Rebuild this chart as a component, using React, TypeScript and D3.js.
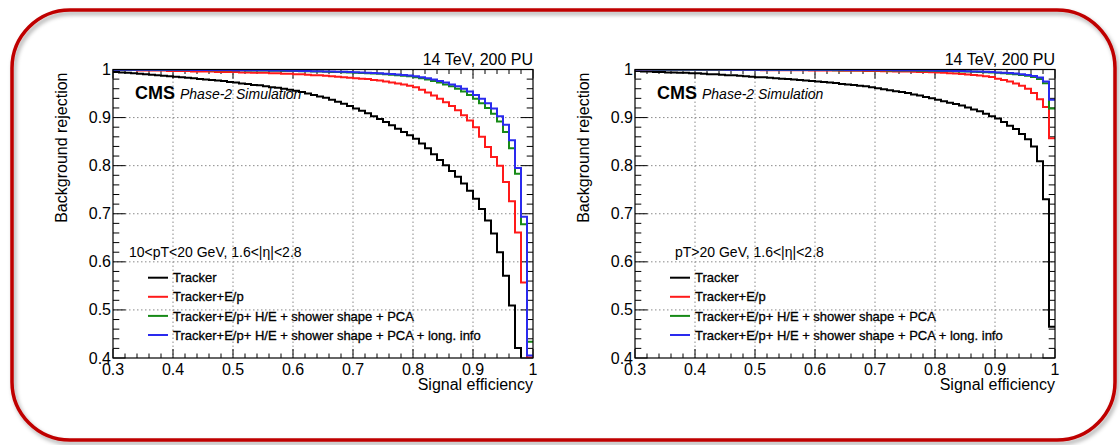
import React from 'react';
import * as d3 from 'd3';

// low edges of the signal-efficiency bins (bin width 0.01)
const efficiencyBins = [
  0.30, 0.31, 0.32, 0.33, 0.34, 0.35, 0.36, 0.37, 0.38, 0.39,
  0.40, 0.41, 0.42, 0.43, 0.44, 0.45, 0.46, 0.47, 0.48, 0.49,
  0.50, 0.51, 0.52, 0.53, 0.54, 0.55, 0.56, 0.57, 0.58, 0.59,
  0.60, 0.61, 0.62, 0.63, 0.64, 0.65, 0.66, 0.67, 0.68, 0.69,
  0.70, 0.71, 0.72, 0.73, 0.74, 0.75, 0.76, 0.77, 0.78, 0.79,
  0.80, 0.81, 0.82, 0.83, 0.84, 0.85, 0.86, 0.87, 0.88, 0.89,
  0.90, 0.91, 0.92, 0.93, 0.94, 0.95, 0.96, 0.97, 0.98, 0.99,
];

// 10 < pT < 20 GeV
const lowTracker = [
  0.995, 0.994, 0.993, 0.992, 0.991, 0.990, 0.989, 0.988, 0.987, 0.986,
  0.985, 0.984, 0.983, 0.982, 0.980, 0.979, 0.978, 0.977, 0.976, 0.974,
  0.973, 0.971, 0.970, 0.968, 0.967, 0.965, 0.963, 0.962, 0.960, 0.958,
  0.956, 0.953, 0.950, 0.947, 0.944, 0.941, 0.937, 0.933, 0.929, 0.924,
  0.919, 0.914, 0.909, 0.903, 0.897, 0.891, 0.884, 0.877, 0.870, 0.863,
  0.856, 0.846, 0.836, 0.824, 0.812, 0.801, 0.789, 0.777, 0.763, 0.748,
  0.731, 0.710, 0.686, 0.659, 0.620, 0.571, 0.509, 0.421, 0.320, 0.200,
];
const lowTrackerEp = [
  0.999, 0.999, 0.999, 0.999, 0.998, 0.998, 0.998, 0.998, 0.998, 0.997,
  0.997, 0.997, 0.997, 0.996, 0.996, 0.996, 0.996, 0.995, 0.995, 0.995,
  0.995, 0.994, 0.994, 0.993, 0.993, 0.993, 0.992, 0.992, 0.991, 0.991,
  0.990, 0.990, 0.989, 0.988, 0.988, 0.987, 0.986, 0.985, 0.984, 0.983,
  0.982, 0.981, 0.980, 0.978, 0.977, 0.975, 0.973, 0.971, 0.969, 0.966,
  0.963, 0.958, 0.952, 0.946, 0.939, 0.932, 0.924, 0.915, 0.905, 0.894,
  0.880, 0.860, 0.839, 0.818, 0.800, 0.766, 0.726, 0.661, 0.557, 0.401,
];
const lowPca = [
  0.9995, 0.9995, 0.9995, 0.9994, 0.9994, 0.9993, 0.9993, 0.9992, 0.9992, 0.9991,
  0.9991, 0.9990, 0.9990, 0.9989, 0.9988, 0.9988, 0.9987, 0.9986, 0.9985, 0.9984,
  0.9983, 0.9982, 0.9981, 0.9980, 0.9978, 0.9977, 0.9975, 0.9973, 0.9971, 0.9969,
  0.9967, 0.9965, 0.9962, 0.9960, 0.9957, 0.9954, 0.9950, 0.9947, 0.9943, 0.9939,
  0.9934, 0.9929, 0.9923, 0.9917, 0.9910, 0.9902, 0.9893, 0.9883, 0.9872, 0.9859,
  0.984, 0.982, 0.979, 0.976, 0.973, 0.969, 0.965, 0.960, 0.954, 0.947,
  0.939, 0.930, 0.920, 0.908, 0.892, 0.870, 0.836, 0.783, 0.678, 0.434,
];
const lowLong = [
  0.9997, 0.9997, 0.9997, 0.9996, 0.9996, 0.9996, 0.9995, 0.9995, 0.9995, 0.9994,
  0.9994, 0.9993, 0.9993, 0.9992, 0.9992, 0.9991, 0.9990, 0.9990, 0.9989, 0.9988,
  0.9987, 0.9986, 0.9985, 0.9984, 0.9983, 0.9982, 0.9980, 0.9979, 0.9977, 0.9975,
  0.9973, 0.9971, 0.9969, 0.9966, 0.9964, 0.9961, 0.9958, 0.9955, 0.9951, 0.9947,
  0.9943, 0.9938, 0.9933, 0.9927, 0.9921, 0.9914, 0.9906, 0.9897, 0.9887, 0.9876,
  0.986, 0.984, 0.982, 0.979, 0.976, 0.973, 0.969, 0.965, 0.960, 0.954,
  0.947, 0.939, 0.930, 0.919, 0.903, 0.885, 0.853, 0.795, 0.694, 0.405,
];

// pT > 20 GeV
const highTracker = [
  0.997, 0.996, 0.996, 0.995, 0.995, 0.994, 0.994, 0.993, 0.993, 0.992,
  0.992, 0.991, 0.990, 0.990, 0.989, 0.988, 0.988, 0.987, 0.986, 0.985,
  0.984, 0.984, 0.983, 0.982, 0.981, 0.980, 0.979, 0.978, 0.977, 0.976,
  0.975, 0.974, 0.973, 0.972, 0.970, 0.969, 0.968, 0.966, 0.965, 0.963,
  0.961, 0.959, 0.957, 0.955, 0.953, 0.951, 0.948, 0.946, 0.943, 0.940,
  0.937, 0.934, 0.931, 0.928, 0.925, 0.921, 0.917, 0.913, 0.908, 0.903,
  0.898, 0.891, 0.883, 0.876, 0.866, 0.855, 0.840, 0.809, 0.730, 0.465,
];
const highTrackerEp = [
  0.9996, 0.9996, 0.9995, 0.9995, 0.9995, 0.9994, 0.9994, 0.9994, 0.9993, 0.9993,
  0.9993, 0.9992, 0.9992, 0.9991, 0.9991, 0.9990, 0.9990, 0.9989, 0.9989, 0.9988,
  0.9988, 0.9987, 0.9986, 0.9986, 0.9985, 0.9984, 0.9983, 0.9983, 0.9982, 0.9981,
  0.9980, 0.9979, 0.9978, 0.9977, 0.9976, 0.9975, 0.9973, 0.9972, 0.9971, 0.9969,
  0.9967, 0.9965, 0.9963, 0.9961, 0.9959, 0.9956, 0.9953, 0.9950, 0.9946, 0.9942,
  0.9937, 0.9931, 0.9924, 0.9916, 0.9907, 0.9897, 0.9886, 0.9873, 0.9859, 0.9843,
  0.981, 0.978, 0.975, 0.971, 0.966, 0.960, 0.951, 0.938, 0.922, 0.857,
];
const highPca = [
  0.9998, 0.9998, 0.9998, 0.9997, 0.9997, 0.9997, 0.9997, 0.9996, 0.9996, 0.9996,
  0.9996, 0.9996, 0.9995, 0.9995, 0.9995, 0.9995, 0.9994, 0.9994, 0.9994, 0.9993,
  0.9993, 0.9993, 0.9992, 0.9992, 0.9992, 0.9991, 0.9991, 0.9990, 0.9990, 0.9989,
  0.9989, 0.9988, 0.9988, 0.9987, 0.9987, 0.9986, 0.9986, 0.9985, 0.9985, 0.9984,
  0.9983, 0.9982, 0.9981, 0.9980, 0.9979, 0.9978, 0.9977, 0.9976, 0.9975, 0.9973,
  0.9971, 0.9969, 0.9967, 0.9964, 0.9961, 0.9958, 0.9954, 0.9950, 0.9945, 0.9939,
  0.9932, 0.9924, 0.9914, 0.9902, 0.9888, 0.9870, 0.9845, 0.9805, 0.9715, 0.9190,
];
const highLong = [
  0.9999, 0.9999, 0.9999, 0.9999, 0.9999, 0.9998, 0.9998, 0.9998, 0.9998, 0.9998,
  0.9998, 0.9998, 0.9998, 0.9998, 0.9998, 0.9997, 0.9997, 0.9997, 0.9997, 0.9997,
  0.9997, 0.9997, 0.9997, 0.9996, 0.9996, 0.9996, 0.9996, 0.9995, 0.9995, 0.9995,
  0.9995, 0.9994, 0.9994, 0.9993, 0.9993, 0.9992, 0.9992, 0.9991, 0.9991, 0.9990,
  0.9989, 0.9988, 0.9988, 0.9987, 0.9986, 0.9985, 0.9984, 0.9983, 0.9982, 0.9980,
  0.9978, 0.9976, 0.9974, 0.9971, 0.9968, 0.9965, 0.9961, 0.9957, 0.9952, 0.9946,
  0.9940, 0.9933, 0.9925, 0.9915, 0.9903, 0.9888, 0.9866, 0.9832, 0.9750, 0.9370,
];

const seriesNames = [
  'Tracker',
  'Tracker+E/p',
  'Tracker+E/p+ H/E + shower shape + PCA',
  'Tracker+E/p+ H/E + shower shape + PCA + long. info',
];
const seriesColors = ['#000000', '#ff1a1a', '#178a17', '#2a2aee'];

const xMajorTicks = [0.3, 0.4, 0.5, 0.6, 0.7, 0.8, 0.9, 1.0];
const xTickLabels = ['0.3', '0.4', '0.5', '0.6', '0.7', '0.8', '0.9', '1'];
const yMajorTicks = [0.4, 0.5, 0.6, 0.7, 0.8, 0.9, 1.0];
const yTickLabels = ['0.4', '0.5', '0.6', '0.7', '0.8', '0.9', '1'];

const FONT = '"Liberation Sans", Arial, Helvetica, sans-serif';

const Panel = ({ left, id, header, series }) => {
  const top = 69.5;
  const bottom = 358;
  const right = left + 420;

  const x = d3.scaleLinear().domain([0.3, 1]).range([left, right]);
  const y = d3.scaleLinear().domain([0.4, 1]).range([bottom, top]);

  const line = d3.line()
    .x((d) => x(d[0]))
    .y((d) => y(d[1]))
    .curve(d3.curveStepAfter);

  // minor ticks every 0.02
  const xMinor = d3.range(15, 51).map((i) => i / 50);
  const yMinor = d3.range(20, 51).map((i) => i / 50);

  return (
    <g>
      <defs>
        <clipPath id={`clip-${id}`}>
          <rect x={left} y={top} width={right - left} height={bottom - top} />
        </clipPath>
      </defs>

      {/* dotted grid at major ticks */}
      {xMajorTicks.slice(1, -1).map((t) => (
        <line key={`gx${t}`} x1={x(t)} x2={x(t)} y1={top} y2={bottom}
          stroke="#8a8a8a" strokeWidth={1} strokeDasharray="1.5 2.5" />
      ))}
      {yMajorTicks.slice(1, -1).map((t) => (
        <line key={`gy${t}`} x1={left} x2={right} y1={y(t)} y2={y(t)}
          stroke="#8a8a8a" strokeWidth={1} strokeDasharray="1.5 2.5" />
      ))}

      {/* ticks on all four sides */}
      {xMinor.map((t, i) => {
        const len = i % 5 === 0 ? 9 : 4.5;
        return (
          <g key={`tx${i}`} stroke="#000" strokeWidth={1}>
            <line x1={x(t)} x2={x(t)} y1={bottom} y2={bottom - len} />
            <line x1={x(t)} x2={x(t)} y1={top} y2={top + len} />
          </g>
        );
      })}
      {yMinor.map((t, i) => {
        const len = i % 5 === 0 ? 12.5 : 6.3;
        return (
          <g key={`ty${i}`} stroke="#000" strokeWidth={1}>
            <line x1={left} x2={left + len} y1={y(t)} y2={y(t)} />
            <line x1={right} x2={right - len} y1={y(t)} y2={y(t)} />
          </g>
        );
      })}

      {/* histograms */}
      <g clipPath={`url(#clip-${id})`}>
        {series.map((vals, k) => {
          const pts = efficiencyBins.map((e, i) => [e, vals[i]]);
          pts.push([1.0, vals[vals.length - 1]]);
          return (
            <path key={k} d={line(pts)} fill="none" stroke={seriesColors[k]}
              strokeWidth={2} strokeLinejoin="miter" />
          );
        })}
      </g>

      <rect x={left} y={top} width={right - left} height={bottom - top}
        fill="none" stroke="#000" strokeWidth={1.2} />

      {/* tick labels */}
      <g fontFamily={FONT} fontSize={16} fill="#000">
        {xMajorTicks.map((t, i) => (
          <text key={`lx${t}`} x={x(t)} y={bottom + 17} textAnchor="middle">{xTickLabels[i]}</text>
        ))}
        {yMajorTicks.map((t, i) => (
          <text key={`ly${t}`} x={left - 2} y={y(t) + 5.5} textAnchor="end">{yTickLabels[i]}</text>
        ))}
        <text x={right} y={bottom + 32} textAnchor="end">Signal efficiency</text>
        <text transform={`translate(${left - 46},${top + 3}) rotate(-90)`} textAnchor="end">
          Background rejection
        </text>
        <text x={right} y={top - 4.5} textAnchor="end">14 TeV, 200 PU</text>
      </g>

      <text x={left + 22} y={99} fontFamily={FONT} fontSize={18} fontWeight="bold">CMS</text>
      <text x={left + 67} y={99} fontFamily={FONT} fontSize={14} fontStyle="italic">Phase-2 Simulation</text>

      {/* legend */}
      <text x={left + header.dx} y={257} fontFamily={FONT} fontSize={14}>{header.text}</text>
      {seriesNames.map((name, k) => {
        const ly = 277.7 + k * 19.1;
        return (
          <g key={name}>
            <line x1={left + header.lineX} x2={left + header.lineX + 20} y1={ly} y2={ly}
              stroke={seriesColors[k]} strokeWidth={2} />
            <text x={left + header.lineX + 25} y={ly + 4.6} fontFamily={FONT} fontSize={13}
              stroke="#000" strokeWidth={0.3}>{name}</text>
          </g>
        );
      })}
    </g>
  );
};

export default function App() {
  return (
    <svg width={1120} height={445} style={{ position: 'absolute', left: 0, top: 0, background: '#fff' }}>
      <defs>
        <filter id="shadow" x="-5%" y="-5%" width="110%" height="115%">
          <feDropShadow dx="2" dy="3" stdDeviation="2.2" floodColor="#000" floodOpacity="0.35" />
        </filter>
      </defs>
      <rect x={12} y={10} width={1103} height={430} rx={58} ry={58}
        fill="none" stroke="#bf0000" strokeWidth={3.5} filter="url(#shadow)" />
      <Panel left={113} id="low"
        header={{ text: '10<pT<20 GeV, 1.6<|η|<2.8', dx: 16, lineX: 35 }}
        series={[lowTracker, lowTrackerEp, lowPca, lowLong]} />
      <Panel left={635} id="high"
        header={{ text: 'pT>20 GeV, 1.6<|η|<2.8', dx: 40, lineX: 35 }}
        series={[highTracker, highTrackerEp, highPca, highLong]} />
    </svg>
  );
}
